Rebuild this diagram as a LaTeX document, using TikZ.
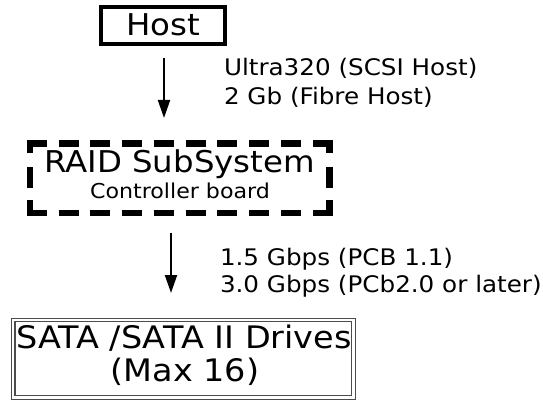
\documentclass[tikz,border=0pt]{standalone}
\usepackage{fontspec}
\usetikzlibrary{arrows.meta}
\newfontfamily\vf[FakeStretch=1.08]{DejaVu Sans}
\tikzset{
  txt/.style={inner sep=0pt, outer sep=0pt, anchor=base, font=\vf},
  lbl/.style={inner sep=0pt, outer sep=0pt, anchor=base west, font=\vf\fontsize{22.8}{22.8}\selectfont},
  flow/.style={line width=2pt, -{Triangle[length=18pt,width=12pt]}},
  raidedge/.style={line width=6.5pt, line cap=butt},
}
\begin{document}
\begin{tikzpicture}[x=1pt,y=-1pt]
  \useasboundingbox (0,0) rectangle (543,401);
  % host box
  \node[draw, line width=4pt, minimum width=124pt, minimum height=37pt, inner sep=0pt]
    (host) at (163,25.5) {};
  \node[txt, font=\vf\fontsize{30}{30}\selectfont] (hosttxt) at (163,36) {Host};
  % RAID subsystem box, borders drawn side by side
  \node[minimum width=299.5pt, minimum height=69.5pt, inner sep=0pt, outer sep=0pt]
    (raid) at (179.75,178.25) {};
  \draw[raidedge, dash pattern=on 20pt off 11.78pt]
    ([xshift=-3.25pt]raid.north west) -- ([xshift=3.25pt]raid.north east);
  \draw[raidedge, dash pattern=on 20pt off 11.78pt]
    ([xshift=-3.25pt]raid.south west) -- ([xshift=3.25pt]raid.south east);
  \draw[raidedge, dash pattern=on 13pt off 14pt on 21pt off 12pt on 20pt]
    ([yshift=3.25pt]raid.north west) -- ([yshift=-3.25pt]raid.south west);
  \draw[raidedge, dash pattern=on 13pt off 14pt on 21pt off 12pt on 20pt]
    ([yshift=3.25pt]raid.north east) -- ([yshift=-3.25pt]raid.south east);
  \node[txt, font=\vf\fontsize{30}{30}\selectfont] (raidtitle) at (179.5,172) {RAID SubSystem};
  \node[txt, font=\vf\fontsize{20.5}{20.5}\selectfont] (raidsub) at (180,198) {Controller board};
  % drives box
  \node[draw=black!70, line width=1.2pt, double, double distance=2.2pt,
        minimum width=340.25pt, minimum height=77.5pt, inner sep=0pt]
    (sata) at (183.4,358.75) {};
  \node[txt, font=\vf\fontsize{31}{31}\selectfont] (satal1) at (184,348) {SATA /SATA II Drives};
  \node[txt, font=\vf\fontsize{31}{31}\selectfont] (satal2) at (185,381) {(Max 16)};
  % connectors
  \coordinate (a1s) at (164,58);
  \coordinate (a1e) at (164,118);
  \coordinate (a2s) at (171,233);
  \coordinate (a2e) at (171,293);
  \draw[flow] (a1s) -- (a1e);
  \draw[flow] (a2s) -- (a2e);
  % link labels
  \node[lbl] (l1a) at (224,76) {Ultra320 (SCSI Host)};
  \node[lbl] (l1b) at (224,105) {2 Gb (Fibre Host)};
  \node[lbl] (l2a) at (220,265) {1.5 Gbps (PCB 1.1)};
  \node[lbl] (l2b) at (220,292) {3.0 Gbps (PCb2.0 or later)};
\end{tikzpicture}
\end{document}
